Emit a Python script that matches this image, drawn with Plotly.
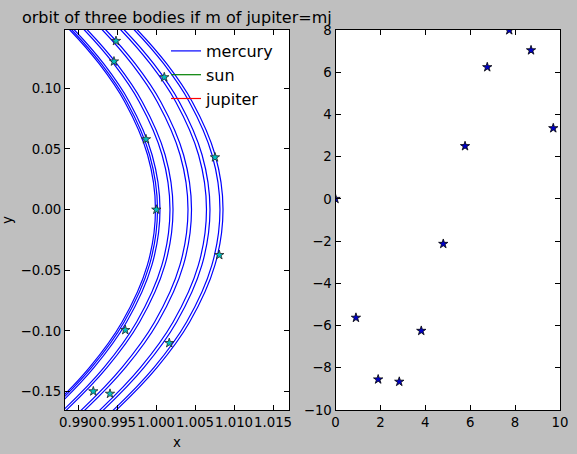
import plotly.graph_objects as go

# ---- left panel: mercury orbit arcs (x at fixed y levels) ----
arc_y = [0.175, 0.148, 0.12, 0.0887, 0.045, 0.0, -0.046, -0.0926, -0.13, -0.165, -0.19]
arc_x = [
    [0.98456, 0.98896, 0.99273, 0.99600, 0.99892, 0.99993, 0.99888, 0.99565, 0.99148, 0.98628, 0.98179],
    [0.98482, 0.98922, 0.99299, 0.99626, 0.99918, 1.00019, 0.99914, 0.99591, 0.99174, 0.98654, 0.98205],
    [0.98514, 0.98954, 0.99331, 0.99658, 0.99950, 1.00051, 0.99946, 0.99623, 0.99206, 0.98686, 0.98237],
    [0.98642, 0.99082, 0.99459, 0.99786, 1.00078, 1.00179, 1.00074, 0.99751, 0.99334, 0.98814, 0.98365],
    [0.98681, 0.99121, 0.99498, 0.99825, 1.00117, 1.00218, 1.00113, 0.99790, 0.99373, 0.98853, 0.98404],
    [0.98873, 0.99313, 0.99690, 1.00017, 1.00309, 1.00410, 1.00305, 0.99982, 0.99565, 0.99045, 0.98596],
    [0.98918, 0.99358, 0.99735, 1.00062, 1.00354, 1.00455, 1.00350, 1.00027, 0.99610, 0.99090, 0.98641],
    [0.99110, 0.99550, 0.99927, 1.00254, 1.00546, 1.00647, 1.00542, 1.00219, 0.99802, 0.99282, 0.98833],
    [0.99155, 0.99595, 0.99972, 1.00299, 1.00591, 1.00692, 1.00587, 1.00264, 0.99847, 0.99327, 0.98878],
    [0.99283, 0.99723, 1.00100, 1.00427, 1.00719, 1.00820, 1.00715, 1.00392, 0.99975, 0.99455, 0.99006],
    [0.99322, 0.99762, 1.00139, 1.00466, 1.00758, 1.00859, 1.00754, 1.00431, 1.00014, 0.99494, 0.99045],
]
# star markers on the mercury orbit
merc_star_x = [1.00004, 0.99606, 0.99196, 0.99410, 0.99871, 1.00756, 1.00811, 1.00170, 0.99487, 0.99461, 1.00106]
merc_star_y = [0.0000, -0.0992, -0.1497, -0.1517, 0.0580, 0.0431, -0.0374, -0.1099, 0.1390, 0.1221, 0.1091]
# sun and jupiter (outside the visible window)
sun_x = [0.0]
sun_y = [0.0]
jup_x = [5.2]
jup_y = [0.0]

left_xticks = [0.990, 0.995, 1.000, 1.005, 1.010, 1.015]
left_yticks = [-0.15, -0.10, -0.05, 0.00, 0.05, 0.10]

# ---- right panel ----
right_x = [0.0, 0.91, 1.90, 2.84, 3.82, 4.80, 5.77, 6.76, 7.74, 8.71, 9.70]
right_y = [0.0, -5.63, -8.55, -8.66, -6.25, -2.13, 2.50, 6.24, 7.99, 7.04, 3.35]
right_xticks = [0, 2, 4, 6, 8, 10]
right_yticks = [-10, -8, -6, -4, -2, 0, 2, 4, 6, 8]

W, H = 577, 454
FONT = "DejaVu Sans"

fig = go.Figure()

for i, xs in enumerate(arc_x):
    fig.add_trace(go.Scatter(
        x=xs, y=arc_y, mode="lines", line=dict(color="#0000ff", width=1.2, shape="spline"),
        name="mercury", legendgroup="mercury", showlegend=(i == 0),
        xaxis="x", yaxis="y"))

fig.add_trace(go.Scatter(x=sun_x, y=sun_y, mode="lines", line=dict(color="#008000", width=1.2),
                         name="sun", xaxis="x", yaxis="y"))
fig.add_trace(go.Scatter(x=jup_x, y=jup_y, mode="lines", line=dict(color="#ff0000", width=1.2),
                         name="jupiter", xaxis="x", yaxis="y"))

fig.add_trace(go.Scatter(
    x=merc_star_x, y=merc_star_y, mode="markers", showlegend=False,
    marker=dict(symbol="star", size=7, color="#00bfbf", line=dict(color="#222222", width=0.8)),
    xaxis="x", yaxis="y"))

fig.add_trace(go.Scatter(
    x=right_x, y=right_y, mode="markers", showlegend=False,
    marker=dict(symbol="star", size=7, color="#0000c8", line=dict(color="#000000", width=0.8)),
    xaxis="x2", yaxis="y2"))

def px_x(p):
    return p / W

def px_y(p):
    return 1 - p / H

axis_common = dict(showline=True, linecolor="black", linewidth=1, mirror="allticks",
                   ticks="inside", ticklen=5, tickwidth=1, tickcolor="black",
                   showgrid=False, zeroline=False, automargin=False, tickangle=0,
                   tickfont=dict(family=FONT, size=13.3, color="black"))

fig.update_layout(
    width=W, height=H,
    paper_bgcolor="#bfbfbf", plot_bgcolor="white",
    margin=dict(l=0, r=0, t=0, b=0),
    showlegend=True,
    legend=dict(x=px_x(166), y=px_y(34), xanchor="left", yanchor="top",
                bgcolor="rgba(0,0,0,0)", borderwidth=0,
                font=dict(family=FONT, size=16, color="black"),
                itemwidth=30, tracegroupgap=0),
    xaxis=dict(domain=[px_x(65), px_x(289)], range=[0.98833, 1.01705],
               tickvals=left_xticks, ticktext=[f"{v:.3f}" for v in left_xticks],
               title=dict(text="x", font=dict(family=FONT, size=13.3, color="black"), standoff=8),
               anchor="y", **axis_common),
    yaxis=dict(domain=[px_y(410), px_y(30)], range=[-0.1651, 0.148],
               tickvals=left_yticks, ticktext=[f"{v:.2f}".replace("-", "\u2212") for v in left_yticks],
               title=dict(text="y", font=dict(family=FONT, size=13.3, color="black"), standoff=6),
               anchor="x", **axis_common),
    xaxis2=dict(domain=[px_x(335.5), px_x(560)], range=[0, 10],
                tickvals=right_xticks, anchor="y2", **axis_common),
    yaxis2=dict(domain=[px_y(410), px_y(30)], range=[-10, 8],
                tickvals=right_yticks, ticktext=[str(v).replace("-", "\u2212") for v in right_yticks],
                anchor="x2", **axis_common),
    annotations=[dict(text="orbit of three bodies if m of jupiter=mj", xref="paper", yref="paper",
                      x=px_x(177), y=px_y(29), xanchor="center", yanchor="bottom", showarrow=False,
                      font=dict(family=FONT, size=16, color="black"))],
)

fig.write_html("out.html", config={"displayModeBar": False},
               post_script="document.body.style.margin='0';document.body.style.padding='0';")
